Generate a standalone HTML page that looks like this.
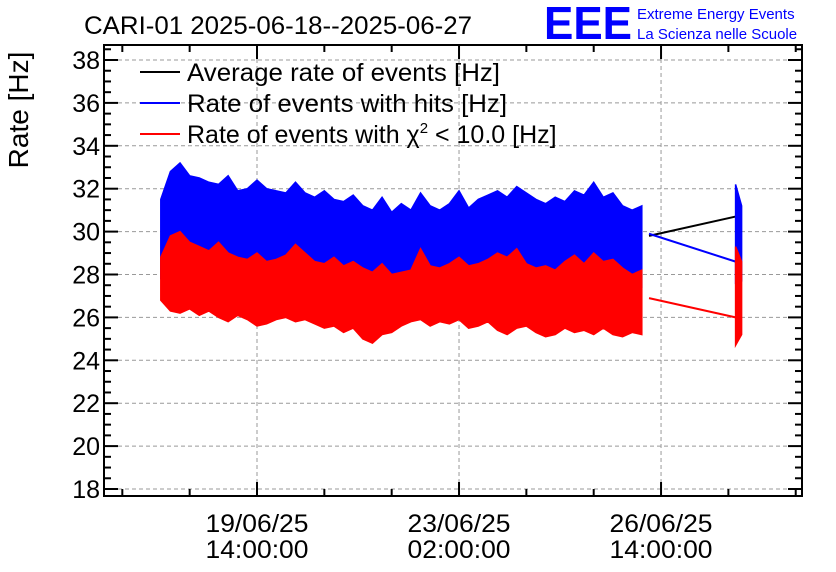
<!DOCTYPE html>
<html><head><meta charset="utf-8"><style>
body{margin:0;background:#fff;}
svg{display:block;font-family:"Liberation Sans",Arial,sans-serif;}
</style></head><body>
<svg id="chart" width="836" height="572" viewBox="0 0 836 572">
<rect width="836" height="572" fill="#fff"/>
<g id="grid"></g>
<g id="series"></g>
<g id="axes"></g>
<text x="84" y="34" font-size="25" fill="#000" textLength="388" lengthAdjust="spacingAndGlyphs">CARI-01 2025-06-18--2025-06-27</text>
<text x="544" y="39" font-size="46" font-weight="bold" fill="#0000ff" textLength="88" lengthAdjust="spacingAndGlyphs">EEE</text>
<text x="637" y="19" font-size="15" fill="#0000ff">Extreme Energy Events</text>
<text x="637" y="39" font-size="15" fill="#0000ff">La Scienza nelle Scuole</text>
<text transform="translate(28,110) rotate(-90)" text-anchor="middle" font-size="28">Rate [Hz]</text>
<g>
<line x1="140" y1="72" x2="180" y2="72" stroke="#000" stroke-width="2"/>
<text x="187" y="81" font-size="25" textLength="313" lengthAdjust="spacingAndGlyphs">Average rate of events [Hz]</text>
<line x1="140" y1="103" x2="180" y2="103" stroke="#0000ff" stroke-width="2"/>
<text x="187" y="112" font-size="25" textLength="320" lengthAdjust="spacingAndGlyphs">Rate of events with hits [Hz]</text>
<line x1="140" y1="134" x2="180" y2="134" stroke="#ff0000" stroke-width="2"/>
<text x="187" y="143" font-size="25">Rate of events with χ<tspan font-size="15" dy="-10">2</tspan><tspan dy="10"> &lt; 10.0 [Hz]</tspan></text>
</g>
</svg>
<script>
const binTimes=[-40,-36,-32,-28,-24,-20,-16,-12,-8,-4,0,4,8,12,16,20,24,28,32,36,40,44,48,52,56,60,64,68,72,76,80,84,88,92,96,100,104,108,112,116,120,124,128,132,136,140,144,148,152,156,160];
const blueHi=[31.5,32.8,33.2,32.6,32.5,32.3,32.2,32.6,31.9,32.0,32.4,32.0,31.9,31.8,32.3,31.8,31.6,31.9,31.5,31.4,31.7,31.2,31.0,31.6,30.9,31.3,31.0,31.8,31.2,31.0,31.3,31.9,31.1,31.5,31.7,31.9,31.6,32.1,31.8,31.5,31.3,31.6,31.4,31.9,31.7,32.3,31.6,31.8,31.2,31.0,31.2];
const blueLo=[27.8,27.7,27.6,27.7,27.6,27.5,27.6,27.5,27.6,27.5,27.4,27.5,27.6,27.5,27.4,27.5,27.4,27.3,27.4,27.3,27.4,27.2,27.2,27.3,27.2,27.3,27.4,27.5,27.3,27.4,27.4,27.5,27.3,27.4,27.5,27.4,27.3,27.5,27.4,27.3,27.3,27.3,27.4,27.5,27.4,27.5,27.4,27.4,27.3,27.3,27.4];
const redHi=[28.8,29.8,30.0,29.5,29.3,29.1,29.5,29.0,28.8,28.7,29.0,28.6,28.7,28.9,29.4,29.0,28.6,28.5,28.8,28.4,28.6,28.3,28.1,28.5,28.0,28.1,28.2,29.2,28.4,28.3,28.5,28.8,28.4,28.5,28.7,29.0,28.8,29.2,28.5,28.3,28.4,28.2,28.6,28.9,28.5,29.0,28.6,28.7,28.3,28.0,28.2];
const redLo=[26.8,26.3,26.2,26.4,26.1,26.3,26.0,25.8,26.1,25.9,25.6,25.7,25.9,26.0,25.8,25.9,25.7,25.5,25.6,25.3,25.5,25.0,24.8,25.2,25.3,25.6,25.8,25.9,25.6,25.8,25.7,25.9,25.5,25.6,25.8,25.4,25.2,25.5,25.6,25.3,25.1,25.2,25.5,25.3,25.4,25.2,25.5,25.2,25.1,25.3,25.2];
const lateTimes=[199,201.5];
const lateBlueHi=[32.2,31.2];
const lateBlueLo=[27.6,27.7];
const lateRedHi=[29.3,28.6];
const lateRedLo=[24.7,25.2];
const gapTimes=[163,199];
const gapAverage=[29.8,30.7];
const gapBlue=[29.9,28.6];
const gapRed=[26.9,26.0];
const yTicks=[18,20,22,24,26,28,30,32,34,36,38];
const xTickTimes=[0,84,168];
const xTickDates=["19/06/25","23/06/25","26/06/25"];
const xTickHours=["14:00:00","02:00:00","14:00:00"];

const L=104,R=802,T=45,B=496;
const xs=t=>257+t*2.405;
const ys=v=>60+(38-v)*21.45;
const NS="http://www.w3.org/2000/svg";
function mk(parent,tag,attrs){const e=document.createElementNS(NS,tag);for(const k in attrs)e.setAttribute(k,attrs[k]);parent.appendChild(e);return e;}
const grid=document.getElementById('grid'),ser=document.getElementById('series'),ax=document.getElementById('axes');

yTicks.forEach(v=>{
  const g=mk(grid,'line',{x1:L,x2:R,y1:ys(v),y2:ys(v),stroke:'#999','stroke-dasharray':'4,3','stroke-width':1});
  
  
});
xTickTimes.forEach(t=>{
  const g=mk(grid,'line',{x1:xs(t),x2:xs(t),y1:T,y2:B,stroke:'#999','stroke-dasharray':'4,3','stroke-width':1});
  
  
});

function band(times,hi,lo,color,name){
  let pts=[];
  times.forEach((t,i)=>pts.push(xs(t)+','+ys(hi[i])));
  for(let i=times.length-1;i>=0;i--)pts.push(xs(times[i])+','+ys(lo[i]));
  const p=mk(ser,'polygon',{points:pts.join(' '),fill:color,stroke:color,'stroke-width':1.5,'stroke-linejoin':'miter'});
  
  
}
function line(times,vals,color,name){
  const p=mk(ser,'polyline',{points:times.map((t,i)=>xs(t)+','+ys(vals[i])).join(' '),fill:'none',stroke:color,'stroke-width':2});
  
  
}
line(gapTimes,gapAverage,'#000','average-rate-line');
line(gapTimes,gapBlue,'#0000ff','hits-rate-gap-line');
line(gapTimes,gapRed,'#ff0000','chi2-rate-gap-line');
band(binTimes,blueHi,blueLo,'#0000ff','hits-rate-band');
band(lateTimes,lateBlueHi,lateBlueLo,'#0000ff','hits-rate-late-band');
band(binTimes,redHi,redLo,'#ff0000','chi2-rate-band');
band(lateTimes,lateRedHi,lateRedLo,'#ff0000','chi2-rate-late-band');

const frame=mk(ax,'rect',{x:L,y:T,width:R-L,height:B-T,fill:'none',stroke:'#000','stroke-width':2});


for(let v=18;v<=38.5;v+=0.5){
  const major=(v%2===0);const len=major?14:7;
  mk(ax,'line',{x1:L,x2:L+len,y1:ys(v),y2:ys(v),stroke:'#000','stroke-width':2});
  mk(ax,'line',{x1:R,x2:R-len,y1:ys(v),y2:ys(v),stroke:'#000','stroke-width':2});
}
yTicks.forEach(v=>{
  const t=mk(ax,'text',{x:100,y:ys(v)+9,'text-anchor':'end','font-size':25});
  t.textContent=v;
  
  
});
for(let t=-56;xs(t)<R;t+=28){
  if(xs(t)<=L)continue;
  const major=((t%84)+84)%84===0;const len=major?14:7;
  mk(ax,'line',{x1:xs(t),x2:xs(t),y1:B,y2:B-len,stroke:'#000','stroke-width':2});
  mk(ax,'line',{x1:xs(t),x2:xs(t),y1:T,y2:T+len,stroke:'#000','stroke-width':2});
}
xTickTimes.forEach((t,i)=>{
  const a=mk(ax,'text',{x:xs(t),y:532,'text-anchor':'middle','font-size':25,textLength:103,lengthAdjust:'spacingAndGlyphs'});
  a.textContent=xTickDates[i];
  
  
  const b=mk(ax,'text',{x:xs(t),y:558,'text-anchor':'middle','font-size':25,textLength:103,lengthAdjust:'spacingAndGlyphs'});
  b.textContent=xTickHours[i];
  
  
});
</script>
</body></html>
